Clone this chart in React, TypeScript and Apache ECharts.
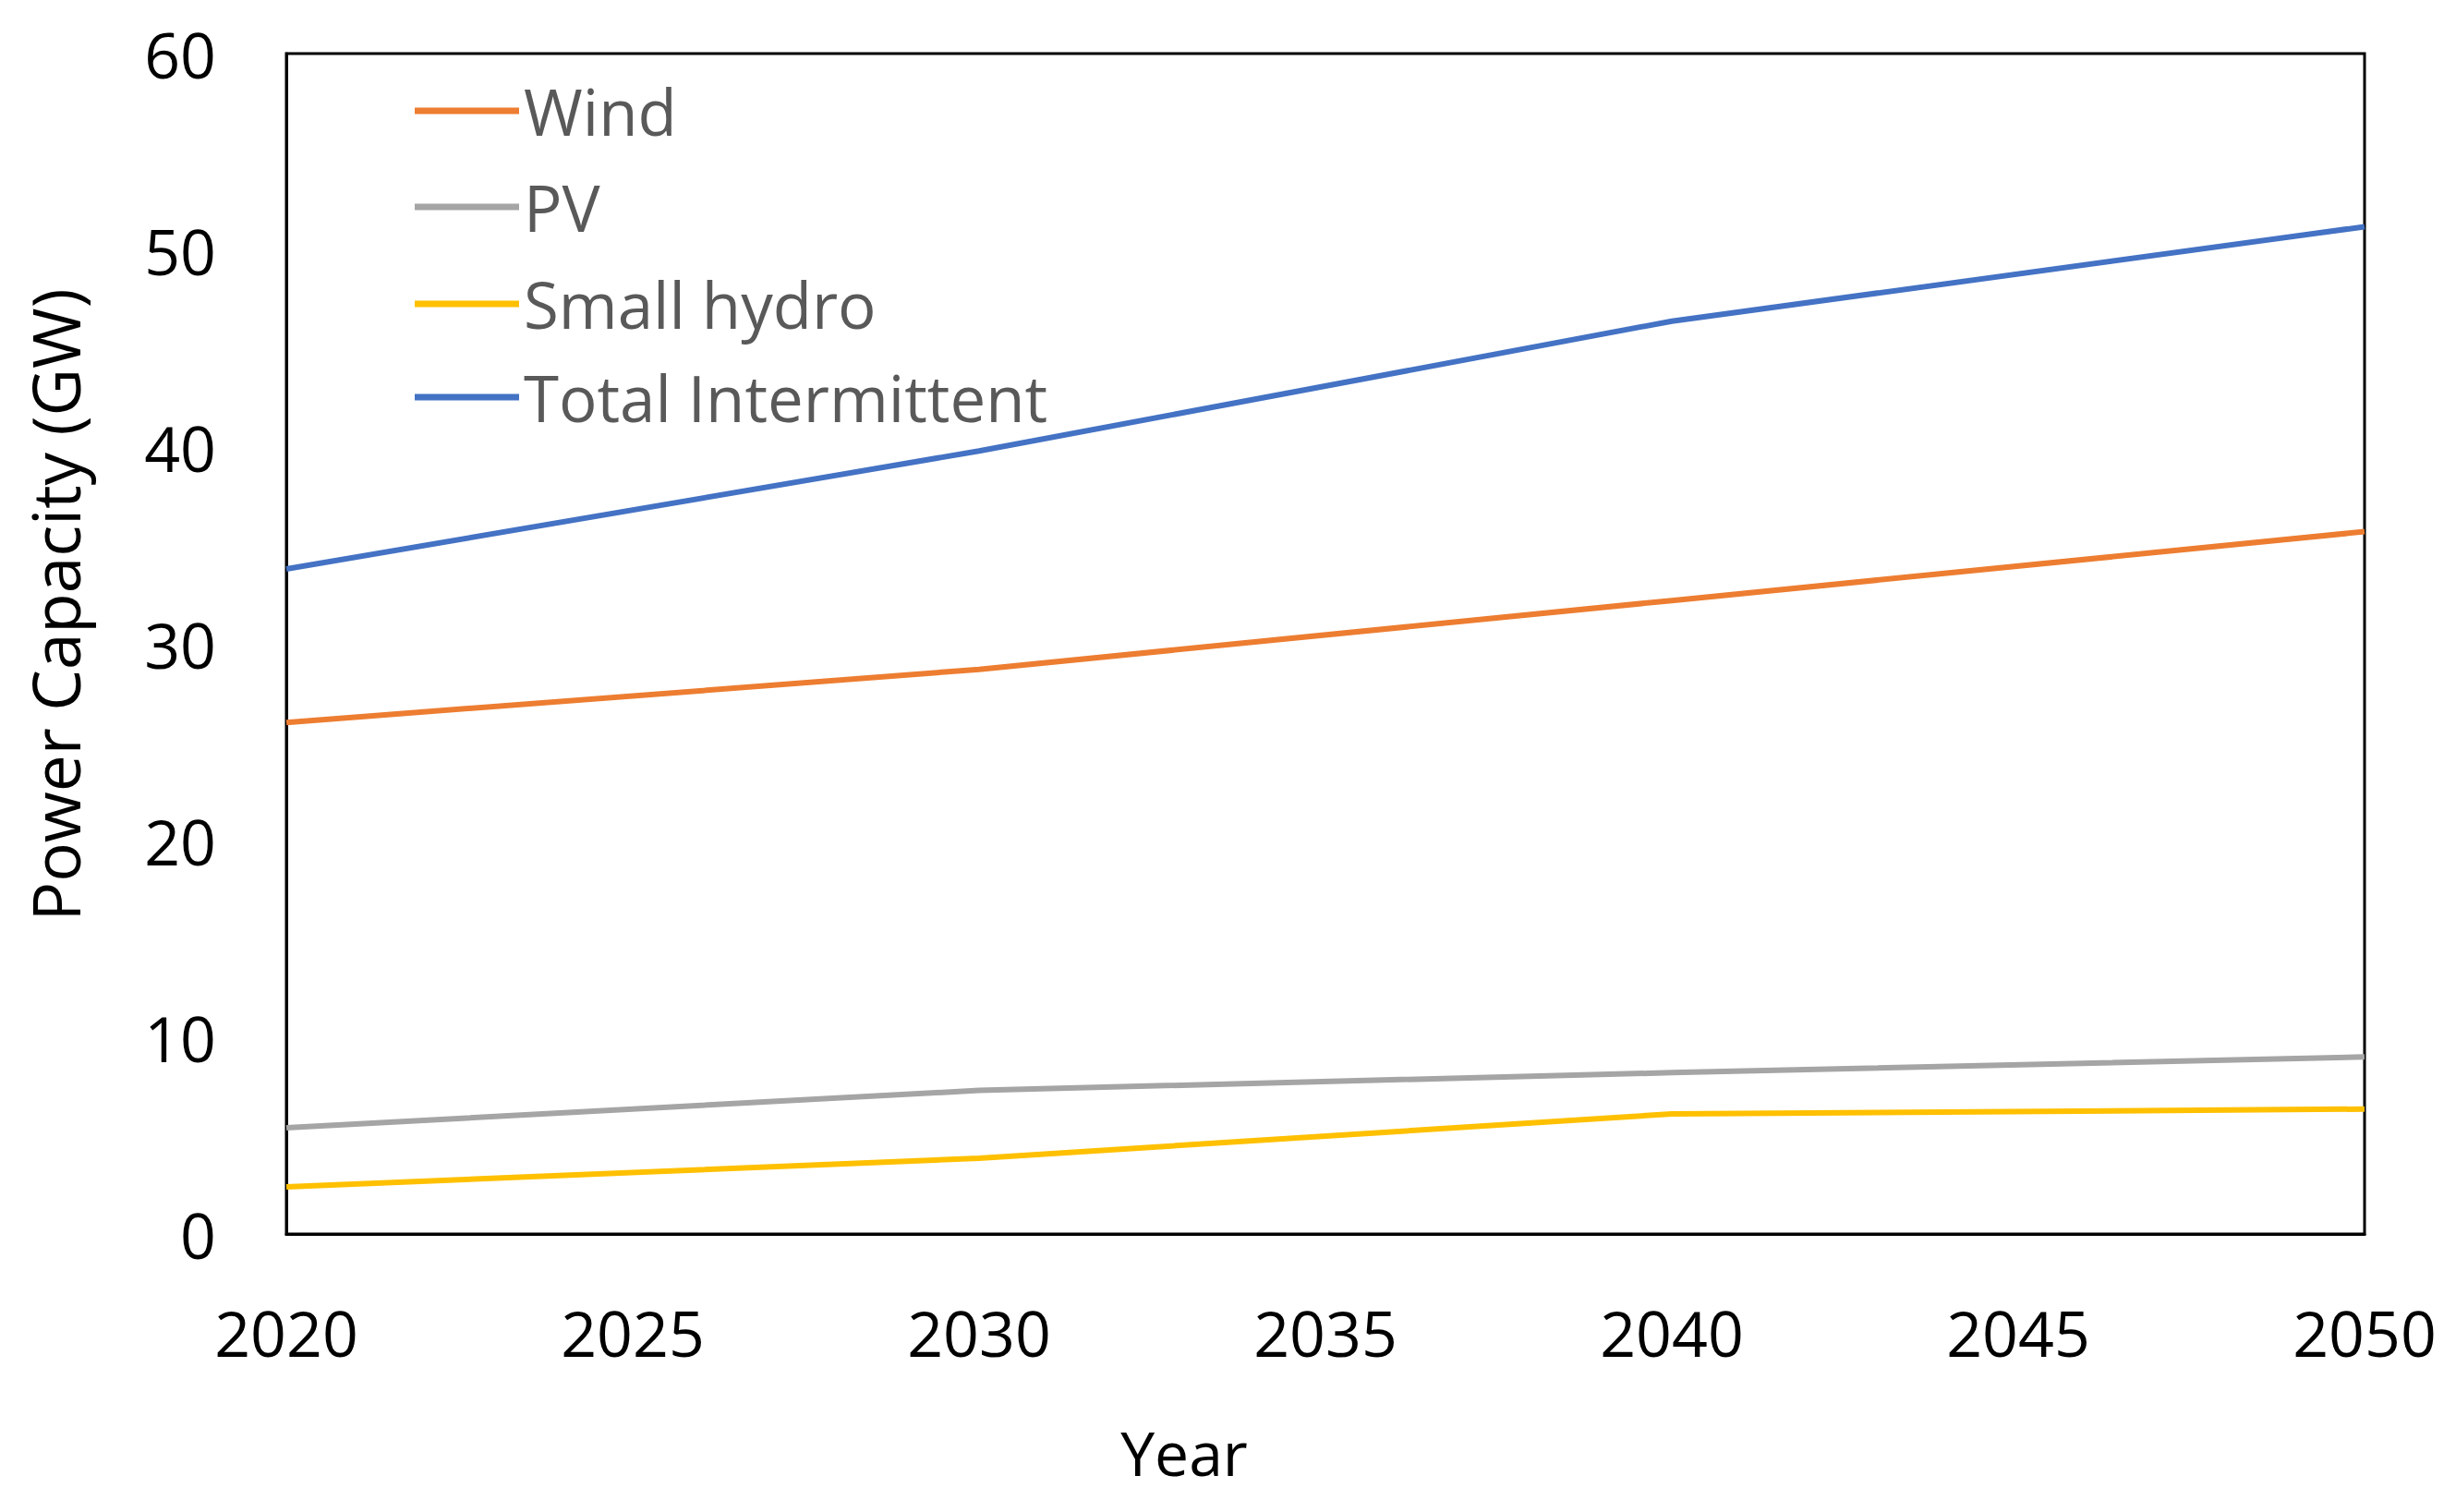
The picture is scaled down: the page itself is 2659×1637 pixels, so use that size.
import React, { useEffect, useRef } from "react";
import * as echarts from "echarts";

const years = [2020, 2030, 2040, 2050];
const wind = [26.0, 28.7, 32.2, 35.7];
const pv = [5.4, 7.3, 8.2, 9.0];
const smallHydro = [2.4, 3.85, 6.1, 6.35];
const totalIntermittent = [33.8, 39.8, 46.4, 51.2];

const seriesNames = ["Wind", "PV", "Small hydro", "Total Intermittent"];
const seriesColors = ["#ED7D31", "#A5A5A5", "#FFC000", "#4472C4"];
const seriesValues = [wind, pv, smallHydro, totalIntermittent];

const FONT = "Open Sans";

export default function App() {
  const ref = useRef<HTMLDivElement>(null);
  useEffect(() => {
    document.body.style.margin = "0";
    const chart = echarts.init(ref.current!, null, { renderer: "svg" });
    const legendRows = [115, 219, 324, 425];
    chart.setOption({
      animation: false,
      backgroundColor: "#ffffff",
      grid: {
        left: 310,
        right: 99,
        top: 58,
        bottom: 301,
        show: true,
        borderColor: "#000000",
        borderWidth: 3,
        backgroundColor: "transparent",
      },
      legend: seriesNames.map((name, i) => ({
        data: [name],
        left: 444,
        top: legendRows[i] - 40,
        orient: "vertical",
        icon: "rect",
        itemWidth: 113,
        itemHeight: 7,
        selectedMode: false,
        textStyle: {
          fontFamily: FONT,
          fontSize: 69,
          color: "#595959",
          lineHeight: 80,
          padding: [0, 0, 0, 0],
        },
      })),
      xAxis: {
        type: "value",
        min: 2020,
        max: 2050,
        interval: 5,
        axisLine: { show: true, lineStyle: { color: "#000000", width: 3 } },
        axisTick: { show: false },
        splitLine: { show: false },
        axisLabel: {
          margin: 72,
          fontFamily: FONT,
          fontSize: 68,
          color: "#000000",
          formatter: (v: number) => String(v),
        },
      },
      yAxis: {
        type: "value",
        min: 0,
        max: 60,
        interval: 10,
        axisLine: { show: true, lineStyle: { color: "#000000", width: 3 } },
        axisTick: { show: false },
        splitLine: { show: false },
        axisLabel: {
          margin: 76,
          fontFamily: FONT,
          fontSize: 68,
          color: "#000000",
        },
      },
      graphic: [
        {
          type: "text",
          x: 1282,
          y: 1572,
          style: {
            text: "Year",
            fontFamily: FONT,
            fontSize: 66,
            fill: "#000000",
            align: "center",
            verticalAlign: "middle",
          },
        },
        {
          type: "text",
          x: 59,
          y: 655,
          rotation: Math.PI / 2,
          style: {
            text: "Power Capacity (GW)",
            fontFamily: FONT,
            fontSize: 71,
            fill: "#000000",
            align: "center",
            verticalAlign: "middle",
          },
        },
      ],
      series: seriesNames.map((name, i) => ({
        name,
        type: "line",
        data: years.map((y, j) => [y, seriesValues[i][j]]),
        showSymbol: false,
        symbol: "none",
        lineStyle: { color: seriesColors[i], width: 6 },
        itemStyle: { color: seriesColors[i] },
      })),
    });
    return () => chart.dispose();
  }, []);
  return (
    <div
      ref={ref}
      style={{ position: "fixed", left: 0, top: 0, width: 2659, height: 1637 }}
    />
  );
}
